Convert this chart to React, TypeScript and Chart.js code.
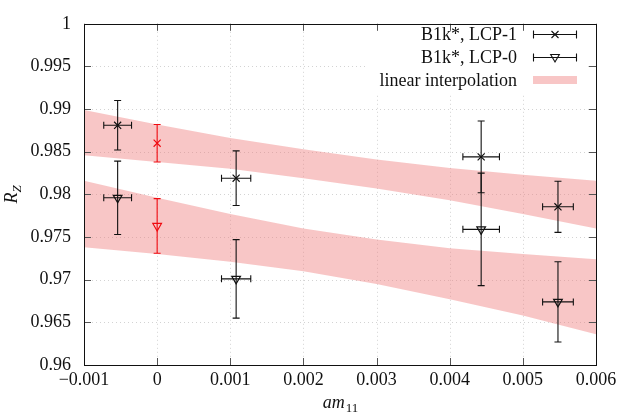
import React, { useEffect, useRef } from "react";
import { Chart, registerables } from "chart.js";

Chart.register(...registerables);

// ---- axis ticks ----
const xTickValues = [-0.001, 0, 0.001, 0.002, 0.003, 0.004, 0.005, 0.006];
const xTickLabels = ["\u22120.001", "0", "0.001", "0.002", "0.003", "0.004", "0.005", "0.006"];
const yTickValues = [0.96, 0.965, 0.97, 0.975, 0.98, 0.985, 0.99, 0.995, 1];
const yTickLabels = ["0.96", "0.965", "0.97", "0.975", "0.98", "0.985", "0.99", "0.995", "1"];

// ---- B1k*, LCP-1 ----
const lcp1X = [-0.00054, 0.00108, 0.00443, 0.00548];
const lcp1Y = [0.9881, 0.9819, 0.9844, 0.97855];
const lcp1XErr = [0.00019, 0.0002, 0.00025, 0.00021];
const lcp1YErr = [0.0029, 0.0032, 0.0042, 0.003];

// ---- B1k*, LCP-0 ----
const lcp0X = [-0.00054, 0.00108, 0.00443, 0.00548];
const lcp0Y = [0.9796, 0.9701, 0.9759, 0.9674];
const lcp0XErr = [0.00019, 0.0002, 0.00025, 0.00021];
const lcp0YErr = [0.0043, 0.0046, 0.0066, 0.0047];

// ---- extrapolated values at am11 = 0 (red) ----
const extrap1X = [0];
const extrap1Y = [0.986];
const extrap1YErr = [0.0022];
const extrap0X = [0];
const extrap0Y = [0.9763];
const extrap0YErr = [0.0032];

// ---- linear interpolation bands ----
const bandX = [-0.001, 0, 0.001, 0.002, 0.003, 0.004, 0.005, 0.006];
const band1Upper = [0.9899, 0.9882, 0.9866, 0.9853, 0.9841, 0.9831, 0.9823, 0.9816];
const band1Lower = [0.9846, 0.9838, 0.983, 0.9819, 0.9807, 0.9793, 0.9777, 0.976];
const band0Upper = [0.9816, 0.9796, 0.9777, 0.976, 0.9747, 0.9737, 0.973, 0.9724];
const band0Lower = [0.9738, 0.973, 0.9721, 0.971, 0.9695, 0.9677, 0.9658, 0.9636];

const FONT = "'Liberation Serif', 'Times New Roman', serif";
const BLACK = "#111111";
const RED = "rgb(240,10,16)";
const BAND = "rgba(240,128,128,0.45)";
const BAND_SOLID = "rgb(248,198,198)";

const pts = (xs: number[], ys: number[]) => xs.map((x, i) => ({ x, y: ys[i] }));

const gridPlugin = {
  id: "gnuGrid",
  beforeDatasetsDraw(chart: any) {
    const { ctx, chartArea: a, scales } = chart;
    ctx.save();
    ctx.strokeStyle = "rgba(175,175,175,0.55)";
    ctx.lineWidth = 1;
    ctx.setLineDash([1, 3]);
    for (const v of xTickValues) {
      const px = Math.round(scales.x.getPixelForValue(v)) + 0.5;
      ctx.beginPath();
      ctx.moveTo(px, a.top);
      ctx.lineTo(px, a.bottom);
      ctx.stroke();
    }
    for (const v of yTickValues) {
      const py = Math.round(scales.y.getPixelForValue(v)) + 0.5;
      ctx.beginPath();
      ctx.moveTo(a.left, py);
      ctx.lineTo(a.right, py);
      ctx.stroke();
    }
    ctx.restore();
  },
};

const errorBarPlugin = {
  id: "errorBars",
  afterDatasetsDraw(chart: any) {
    const { ctx, scales } = chart;
    ctx.save();
    ctx.lineWidth = 1.1;
    ctx.setLineDash([]);
    chart.data.datasets.forEach((ds: any) => {
      if (!ds.yErr) return;
      ctx.strokeStyle = ds.errColor;
      ds.data.forEach((p: any, i: number) => {
        const cx = scales.x.getPixelForValue(p.x);
        const cy = scales.y.getPixelForValue(p.y);
        const yt = scales.y.getPixelForValue(p.y + ds.yErr[i]);
        const yb = scales.y.getPixelForValue(p.y - ds.yErr[i]);
        const cap = 3.5;
        ctx.beginPath();
        ctx.moveTo(cx, yt);
        ctx.lineTo(cx, yb);
        ctx.moveTo(cx - cap, yt);
        ctx.lineTo(cx + cap, yt);
        ctx.moveTo(cx - cap, yb);
        ctx.lineTo(cx + cap, yb);
        if (ds.xErr) {
          const xl = scales.x.getPixelForValue(p.x - ds.xErr[i]);
          const xr = scales.x.getPixelForValue(p.x + ds.xErr[i]);
          ctx.moveTo(xl, cy);
          ctx.lineTo(xr, cy);
          ctx.moveTo(xl, cy - cap);
          ctx.lineTo(xl, cy + cap);
          ctx.moveTo(xr, cy - cap);
          ctx.lineTo(xr, cy + cap);
        }
        ctx.stroke();
      });
    });
    ctx.restore();
  },
};

function drawCross(ctx: CanvasRenderingContext2D, x: number, y: number, s: number) {
  ctx.beginPath();
  ctx.moveTo(x - s, y - s);
  ctx.lineTo(x + s, y + s);
  ctx.moveTo(x - s, y + s);
  ctx.lineTo(x + s, y - s);
  ctx.stroke();
}
function drawTriDown(ctx: CanvasRenderingContext2D, x: number, y: number, r: number) {
  ctx.beginPath();
  ctx.moveTo(x - r * 0.866, y - r * 0.5);
  ctx.lineTo(x + r * 0.866, y - r * 0.5);
  ctx.lineTo(x, y + r);
  ctx.closePath();
  ctx.stroke();
}

const frameLegendPlugin = {
  id: "frameLegend",
  afterDraw(chart: any) {
    const { ctx, chartArea: a, scales } = chart;
    ctx.save();
    ctx.setLineDash([]);

    // opaque legend box (hides grid beneath the key)
    ctx.fillStyle = "#ffffff";
    ctx.fillRect(366, 24, 220, 70);

    // ticks (inward, mirrored)
    ctx.strokeStyle = "#555";
    ctx.lineWidth = 1;
    const tl = 7;
    for (const v of xTickValues) {
      const px = Math.round(scales.x.getPixelForValue(v)) + 0.5;
      ctx.beginPath();
      ctx.moveTo(px, a.bottom);
      ctx.lineTo(px, a.bottom - tl);
      ctx.moveTo(px, a.top);
      ctx.lineTo(px, a.top + tl);
      ctx.stroke();
    }
    for (const v of yTickValues) {
      const py = Math.round(scales.y.getPixelForValue(v)) + 0.5;
      ctx.beginPath();
      ctx.moveTo(a.left, py);
      ctx.lineTo(a.left + tl, py);
      ctx.moveTo(a.right, py);
      ctx.lineTo(a.right - tl, py);
      ctx.stroke();
    }
    // border
    ctx.strokeStyle = BLACK;
    ctx.strokeRect(Math.round(a.left) + 0.5, Math.round(a.top) + 0.5, Math.round(a.right - a.left), Math.round(a.bottom - a.top));

    // legend
    const entries = chart.data.datasets
      .filter((d: any) => d.legendKind)
      .sort((p: any, q: any) => p.legendRank - q.legendRank);
    const textX = 517;
    const s0 = 533;
    const s1 = 577;
    const rowY = [34, 57, 80];
    ctx.font = `18px ${FONT}`;
    ctx.textAlign = "right";
    ctx.textBaseline = "middle";
    entries.forEach((d: any, i: number) => {
      const y = rowY[i];
      ctx.fillStyle = BLACK;
      ctx.fillText(d.label, textX, y + 1);
      if (d.legendKind === "band") {
        ctx.fillStyle = BAND_SOLID;
        ctx.fillRect(s0, y - 4, s1 - s0, 8);
      } else {
        ctx.strokeStyle = BLACK;
        ctx.lineWidth = 1.1;
        ctx.beginPath();
        ctx.moveTo(s0, y + 0.5);
        ctx.lineTo(s1, y + 0.5);
        ctx.moveTo(s0 + 0.5, y - 3.5);
        ctx.lineTo(s0 + 0.5, y + 4.5);
        ctx.moveTo(s1 - 0.5, y - 3.5);
        ctx.lineTo(s1 - 0.5, y + 4.5);
        ctx.stroke();
        const mx = (s0 + s1) / 2;
        if (d.legendKind === "cross") drawCross(ctx, mx, y + 0.5, 3.5);
        else drawTriDown(ctx, mx, y, 5);
      }
    });

    // axis titles
    ctx.fillStyle = BLACK;
    ctx.textBaseline = "alphabetic";
    ctx.textAlign = "left";
    // x title: am_11
    ctx.font = `italic 18px ${FONT}`;
    const w1 = ctx.measureText("am").width;
    ctx.font = `13px ${FONT}`;
    const w2 = ctx.measureText("11").width;
    const cx = (a.left + a.right) / 2;
    const xs = cx - (w1 + w2) / 2;
    ctx.font = `italic 18px ${FONT}`;
    ctx.fillText("am", xs, 408);
    ctx.font = `13px ${FONT}`;
    ctx.fillText("11", xs + w1 + 1, 412);
    // y title: R_Z
    ctx.save();
    ctx.translate(17, (a.top + a.bottom) / 2);
    ctx.rotate(-Math.PI / 2);
    ctx.font = `italic 18px ${FONT}`;
    const r1 = ctx.measureText("R").width;
    ctx.font = `italic 13px ${FONT}`;
    const r2 = ctx.measureText("Z").width;
    const ys = -(r1 + r2) / 2;
    ctx.font = `italic 18px ${FONT}`;
    ctx.fillText("R", ys, 0);
    ctx.font = `italic 13px ${FONT}`;
    ctx.fillText("Z", ys + r1, 4);
    ctx.restore();

    ctx.restore();
  },
};

export default function App() {
  const ref = useRef<HTMLCanvasElement | null>(null);

  useEffect(() => {
    if (!ref.current) return;
    const bandDs = (data: any, fill: any) => ({
      type: "scatter" as const,
      data,
      showLine: true,
      borderWidth: 0,
      borderColor: "rgba(0,0,0,0)",
      pointRadius: 0,
      backgroundColor: BAND,
      fill,
      order: 10,
    });
    const chart = new Chart(ref.current, {
      type: "scatter",
      data: {
        datasets: [
          { ...bandDs(pts(bandX, band1Upper), "+1"), label: "linear interpolation", legendKind: "band", legendRank: 3 } as any,
          { ...bandDs(pts(bandX, band1Lower), false), label: "band1-lower" } as any,
          { ...bandDs(pts(bandX, band0Upper), "+1"), label: "band0-upper" } as any,
          { ...bandDs(pts(bandX, band0Lower), false), label: "band0-lower" } as any,
          {
            label: "B1k*, LCP-1",
            legendKind: "cross",
            legendRank: 1,
            data: pts(lcp1X, lcp1Y),
            xErr: lcp1XErr,
            yErr: lcp1YErr,
            errColor: BLACK,
            pointStyle: "crossRot",
            pointRadius: 5,
            borderColor: BLACK,
            borderWidth: 1.2,
            backgroundColor: "rgba(0,0,0,0)",
            order: 1,
          } as any,
          {
            label: "B1k*, LCP-0",
            legendKind: "tri",
            legendRank: 2,
            data: pts(lcp0X, lcp0Y),
            xErr: lcp0XErr,
            yErr: lcp0YErr,
            errColor: BLACK,
            pointStyle: "triangle",
            rotation: 180,
            pointRadius: 5,
            borderColor: BLACK,
            borderWidth: 1.2,
            backgroundColor: "rgba(0,0,0,0)",
            order: 1,
          } as any,
          {
            label: "extrap LCP-1",
            data: pts(extrap1X, extrap1Y),
            yErr: extrap1YErr,
            errColor: RED,
            pointStyle: "crossRot",
            pointRadius: 5,
            borderColor: RED,
            borderWidth: 1.2,
            backgroundColor: "rgba(0,0,0,0)",
            order: 1,
          } as any,
          {
            label: "extrap LCP-0",
            data: pts(extrap0X, extrap0Y),
            yErr: extrap0YErr,
            errColor: RED,
            pointStyle: "triangle",
            rotation: 180,
            pointRadius: 5,
            borderColor: RED,
            borderWidth: 1.2,
            backgroundColor: "rgba(0,0,0,0)",
            order: 1,
          } as any,
        ],
      },
      options: {
        animation: false,
        responsive: false,
        devicePixelRatio: 1,
        events: [],
        layout: { padding: { top: 15, right: 27, left: 0, bottom: 0 } },
        plugins: {
          legend: { display: false },
          tooltip: { enabled: false },
          title: { display: false },
        },
        scales: {
          x: {
            type: "linear",
            min: -0.001,
            max: 0.006,
            grid: { display: false, drawTicks: false },
            border: { display: false },
            afterBuildTicks: (s: any) => {
              s.ticks = xTickValues.map((v) => ({ value: v }));
            },
            afterFit: (s: any) => {
              s.height = 51;
            },
            ticks: {
              padding: 4,
              color: BLACK,
              font: { family: FONT, size: 18 },
              maxRotation: 0,
              autoSkip: false,
              callback: (v: any) => {
                const i = xTickValues.findIndex((t) => Math.abs(t - Number(v)) < 1e-9);
                return i >= 0 ? xTickLabels[i] : "";
              },
            },
          },
          y: {
            type: "linear",
            min: 0.96,
            max: 1,
            grid: { display: false, drawTicks: false },
            border: { display: false },
            afterBuildTicks: (s: any) => {
              s.ticks = yTickValues.map((v) => ({ value: v }));
            },
            afterFit: (s: any) => {
              s.width = 84;
            },
            ticks: {
              padding: 13,
              color: BLACK,
              font: { family: FONT, size: 18 },
              autoSkip: false,
              callback: (v: any) => {
                const i = yTickValues.findIndex((t) => Math.abs(t - Number(v)) < 1e-9);
                return i >= 0 ? yTickLabels[i] : "";
              },
            },
          },
        },
      } as any,
      plugins: [gridPlugin, errorBarPlugin, frameLegendPlugin],
    });
    return () => chart.destroy();
  }, []);

  return (
    <div style={{ position: "fixed", left: 0, top: 0, width: 623, height: 416, background: "#fff" }}>
      <canvas ref={ref} width={623} height={416} style={{ display: "block", width: 623, height: 416 }} />
    </div>
  );
}
